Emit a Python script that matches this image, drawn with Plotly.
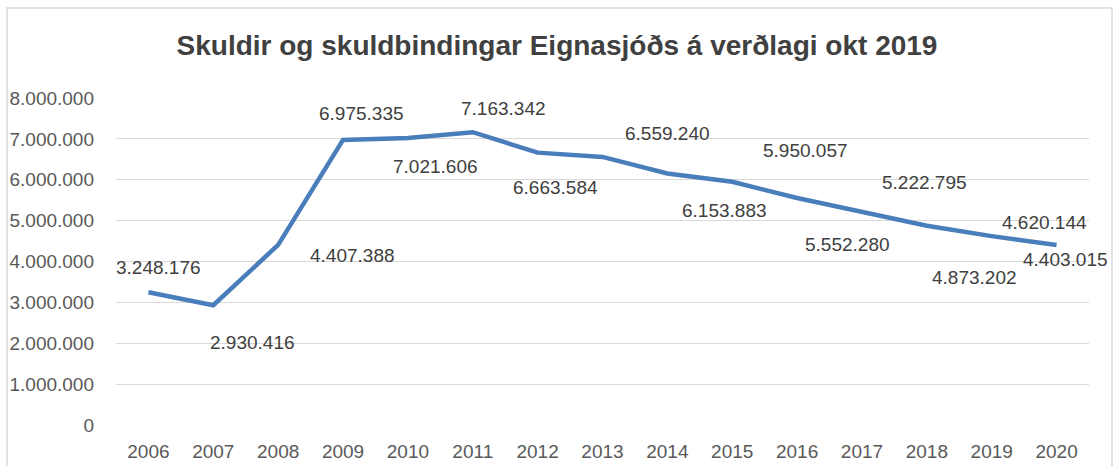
import plotly.graph_objects as go

years = ["2006", "2007", "2008", "2009", "2010", "2011", "2012", "2013",
         "2014", "2015", "2016", "2017", "2018", "2019", "2020"]
values = [3248176, 2930416, 4407388, 6975335, 7021606, 7163342, 6663584, 6559240,
          6153883, 5950057, 5552280, 5222795, 4873202, 4620144, 4403015]
labels = ["3.248.176", "2.930.416", "4.407.388", "6.975.335", "7.021.606", "7.163.342",
          "6.663.584", "6.559.240", "6.153.883", "5.950.057", "5.552.280", "5.222.795",
          "4.873.202", "4.620.144", "4.403.015"]
tick_vals = [0, 1000000, 2000000, 3000000, 4000000, 5000000, 6000000, 7000000, 8000000]
tick_text = ["0", "1.000.000", "2.000.000", "3.000.000", "4.000.000", "5.000.000",
             "6.000.000", "7.000.000", "8.000.000"]
title = "Skuldir og skuldbindingar Eignasjóðs á verðlagi okt 2019"

# label pixel offsets (style), relative to each point
dx = [10, 39, 74, 18, 28, 31, 18, 65, 57, 73, 50, 63, 48, 53, 9]
dy = [-25, 37, 11, -26, 29, -24, 35, -23, 37, -31, 46, -29, 52, -14, 14]

FONT = "Liberation Sans, Arial, sans-serif"

fig = go.Figure()
fig.add_trace(go.Scatter(
    x=years, y=values, mode="lines",
    line=dict(color="#4a7ebb", width=4.5),
    hoverinfo="skip", showlegend=False,
))

for i in range(len(years)):
    fig.add_annotation(
        x=i, y=values[i], text=labels[i], showarrow=False,
        xshift=dx[i], yshift=-dy[i],
        font=dict(family=FONT, size=19, color="#404040"),
    )

W, H = 1114, 466
L, R, T, B = 116, 25, 98, 41
pw, ph = W - L - R, H - T - B

def px(x):
    return (x - L) / pw

def py(y):
    return (H - B - y) / ph

fig.add_shape(type="rect", xref="paper", yref="paper",
              x0=px(7), x1=px(1112), y0=py(475), y1=py(8),
              line=dict(color="#d9d9d9", width=1.5), layer="below")

fig.update_layout(
    width=W, height=H,
    margin=dict(l=L, r=R, t=T, b=B),
    paper_bgcolor="white", plot_bgcolor="white",
    title=dict(text="<b>" + title + "</b>", x=0.5, xanchor="center",
               y=1 - 45 / H, yanchor="middle",
               font=dict(family=FONT, size=28, color="#404040")),
    xaxis=dict(type="category", range=[-0.5, 14.5], showgrid=False,
               showline=False, zeroline=False, ticks="", automargin=False,
               ticklabelstandoff=13,
               tickfont=dict(family=FONT, size=19, color="#595959")),
    yaxis=dict(range=[0, 8000000], tickvals=tick_vals, ticktext=tick_text,
               showgrid=True, gridcolor="#d9d9d9", gridwidth=1.3,
               zeroline=False, showline=False, ticks="", automargin=False,
               ticklabelstandoff=21,
               tickfont=dict(family=FONT, size=19, color="#595959")),
)

fig.write_html(
    "out.html",
    config={"displayModeBar": False},
    post_script="document.body.style.margin='0';document.body.style.overflow='hidden';",
)
